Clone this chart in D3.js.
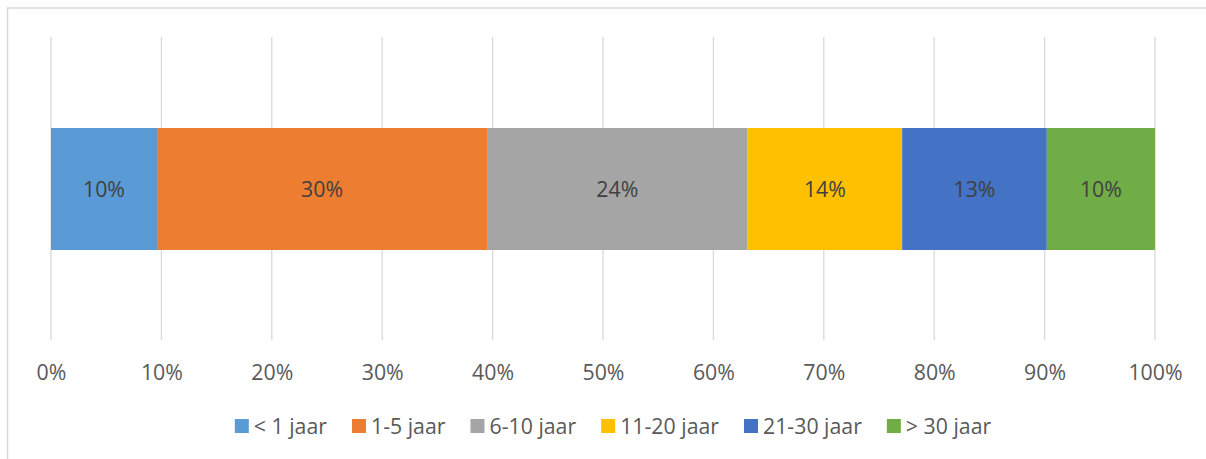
<!DOCTYPE html>
<html><head><meta charset="utf-8">
<script src="https://cdn.jsdelivr.net/npm/d3@7"></script>
<style>html,body{margin:0;padding:0;background:#fff;overflow:hidden;}svg{display:block;}</style>
</head><body>
<svg id="chart" width="1206" height="459"></svg>
<script>
const categories = ["< 1 jaar", "1-5 jaar", "6-10 jaar", "11-20 jaar", "21-30 jaar", "> 30 jaar"];
const values = [9.6, 29.9, 23.6, 14.0, 13.1, 9.8];
const labels = ["10%", "30%", "24%", "14%", "13%", "10%"];
const colors = ["#5B9BD5", "#ED7D31", "#A5A5A5", "#FFC000", "#4472C4", "#70AD47"];
const tickValues = [0, 10, 20, 30, 40, 50, 60, 70, 80, 90, 100];

const svg = d3.select("#chart");
const font = "'Open Sans', 'Noto Sans', sans-serif";
const fs = 21.3;

// frame
svg.append("rect").attr("x", 7.5).attr("y", 8).attr("width", 1230).attr("height", 480)
  .attr("fill", "#fff").attr("stroke", "#d9d9d9").attr("stroke-width", 1.5);

const x = d3.scaleLinear().domain([0, 100]).range([51, 1155]);

// gridlines
svg.append("g").selectAll("line").data(tickValues).join("line")
  .attr("x1", d => x(d)).attr("x2", d => x(d))
  .attr("y1", 37).attr("y2", 340)
  .attr("stroke", "#d9d9d9").attr("stroke-width", 1.3);

// stacked segments
let acc = 0;
const segs = values.map((v, i) => { const s = {start: acc, end: acc + v, i}; acc += v; return s; });

const bh = 122, by = 128;
svg.append("g").selectAll("rect").data(segs).join("rect")
  .attr("x", d => x(d.start)).attr("width", d => x(d.end) - x(d.start))
  .attr("y", by).attr("height", bh)
  .attr("fill", d => colors[d.i]);

svg.append("g").selectAll("text").data(segs).join("text")
  .attr("x", d => (x(d.start) + x(d.end)) / 2).attr("y", by + bh / 2)
  .attr("dy", "0.36em").attr("text-anchor", "middle")
  .attr("font-family", font).attr("font-size", fs).attr("fill", "#404040")
  .text(d => labels[d.i]);

// axis labels
const axis = d3.axisBottom(x).tickValues(tickValues).tickFormat(d => d + "%").tickSize(0).tickPadding(0);
const ax = svg.append("g").attr("transform", "translate(0,372)").call(axis);
ax.select(".domain").remove();
ax.selectAll("text").attr("font-family", font).attr("font-size", fs).attr("fill", "#595959").attr("dy", "0.36em").attr("y", 0);

// legend
const lg = svg.append("g");
const items = lg.selectAll("g").data(categories).join("g");
items.append("rect").attr("width", 14).attr("height", 14).attr("y", 419).attr("fill", (d, i) => colors[i]);
items.append("text").attr("x", 19).attr("y", 426).attr("dy", "0.36em")
  .attr("font-family", font).attr("font-size", fs).attr("fill", "#595959").text(d => d);
const widths = [];
items.each(function() { widths.push(19 + d3.select(this).select("text").node().getComputedTextLength()); });
const gap = 25;
const total = d3.sum(widths) + gap * (widths.length - 1);
let cx = 613 - total / 2;
items.each(function(d, i) { d3.select(this).attr("transform", `translate(${cx},0)`); cx += widths[i] + gap; });
</script>
</body></html>
